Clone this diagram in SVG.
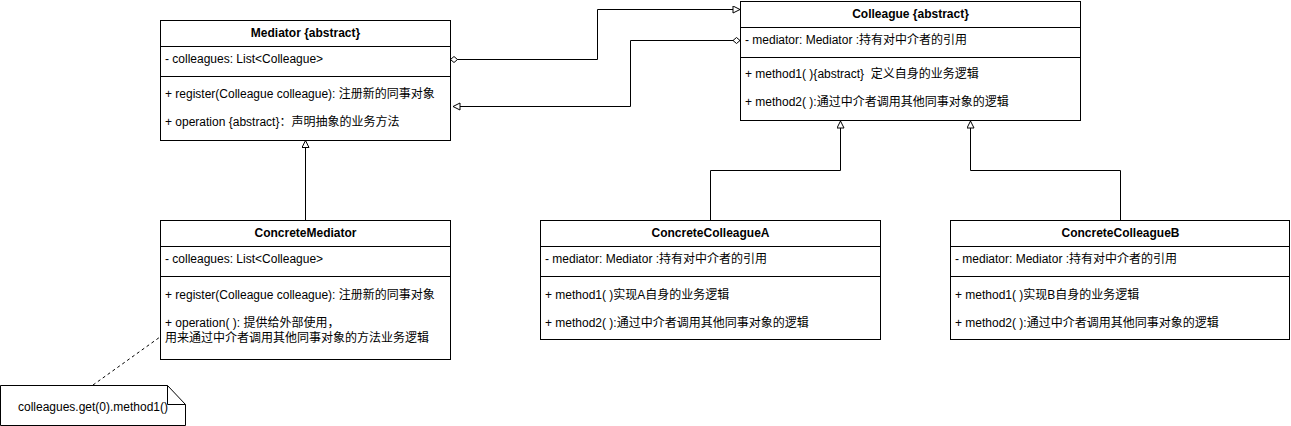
<svg xmlns="http://www.w3.org/2000/svg" width="1291" height="426" viewBox="0 0 1291 426">
<style>
.box{fill:#fff;stroke:#000;stroke-width:1}
.ln{stroke:#000;stroke-width:1;fill:none}
text{font-family:"Liberation Sans",Arial,"Noto Sans CJK SC",sans-serif;font-size:12px;fill:#000}
.t{font-weight:bold;text-anchor:middle}
.c{text-anchor:middle}
</style>
<defs>
<marker id="tri" markerUnits="userSpaceOnUse" markerWidth="10" markerHeight="10" viewBox="0 0 10 10" refX="8" refY="4" orient="auto">
<path d="M1,0.5 L8,4 L1,7.5 Z" fill="#fff" stroke="#000" stroke-width="1"/>
</marker>
<marker id="dia" markerUnits="userSpaceOnUse" markerWidth="12" markerHeight="10" viewBox="0 0 12 10" refX="1" refY="4" orient="auto">
<path d="M1,4 L4.5,1 L8,4 L4.5,7 Z" fill="#fff" stroke="#000" stroke-width="1"/>
</marker>
</defs>
<g id="connectors">
<path class="ln" d="M305.5,220 V140.5" marker-end="url(#tri)"/>
<path class="ln" d="M450.5,59.5 H597.5 V9.5 H740" marker-start="url(#dia)" marker-end="url(#tri)"/>
<path class="ln" d="M740,40.5 H630.5 V106.5 H453" marker-start="url(#dia)" marker-end="url(#tri)"/>
<path class="ln" d="M710.5,220 V170.5 H840.5 V121" marker-end="url(#tri)"/>
<path class="ln" d="M1120.5,220 V170.5 H970.5 V121" marker-end="url(#tri)"/>
<path class="ln" d="M93,385 L160,337" stroke-dasharray="3 3"/>
</g>
<g id="Mediator">
<rect class="box" x="160.5" y="20.5" width="290" height="120"/>
<path class="ln" d="M160.5,46.5 H450.5 M160.5,76.5 H450.5"/>
<text class="t" x="305.5" y="37">Mediator {abstract}</text>
<text x="165" y="63">- colleagues: List&lt;Colleague&gt;</text>
<text x="165" y="98">+ register(Colleague colleague): 注册新的同事对象</text>
<text x="165" y="126">+ operation {abstract}：声明抽象的业务方法</text>
</g>
<g id="Colleague">
<rect class="box" x="740.5" y="1.5" width="340" height="119"/>
<path class="ln" d="M740.5,27.5 H1080.5 M740.5,57.5 H1080.5"/>
<text class="t" x="910.5" y="18">Colleague {abstract}</text>
<text x="745" y="44">- mediator: Mediator :持有对中介者的引用</text>
<text x="745" y="78">+ method1( ){abstract}&#160; 定义自身的业务逻辑</text>
<text x="745" y="106">+ method2( ):通过中介者调用其他同事对象的逻辑</text>
</g>
<g id="ConcreteMediator">
<rect class="box" x="160.5" y="220.5" width="290" height="139"/>
<path class="ln" d="M160.5,246.5 H450.5 M160.5,276.5 H450.5"/>
<text class="t" x="305.5" y="237">ConcreteMediator</text>
<text x="165" y="263">- colleagues: List&lt;Colleague&gt;</text>
<text x="165" y="299">+ register(Colleague colleague): 注册新的同事对象</text>
<text x="165" y="327">+ operation( ): 提供给外部使用，</text>
<text x="165" y="342">用来通过中介者调用其他同事对象的方法业务逻辑</text>
</g>
<g id="ConcreteColleagueA">
<rect class="box" x="540.5" y="220.5" width="340" height="119"/>
<path class="ln" d="M540.5,246.5 H880.5 M540.5,276.5 H880.5"/>
<text class="t" x="710.5" y="237">ConcreteColleagueA</text>
<text x="545" y="263">- mediator: Mediator :持有对中介者的引用</text>
<text x="545" y="299">+ method1( )实现A自身的业务逻辑</text>
<text x="545" y="327">+ method2( ):通过中介者调用其他同事对象的逻辑</text>
</g>
<g id="ConcreteColleagueB">
<rect class="box" x="950.5" y="220.5" width="339" height="119"/>
<path class="ln" d="M950.5,246.5 H1289.5 M950.5,276.5 H1289.5"/>
<text class="t" x="1120.5" y="237">ConcreteColleagueB</text>
<text x="955" y="263">- mediator: Mediator :持有对中介者的引用</text>
<text x="955" y="299">+ method1( )实现B自身的业务逻辑</text>
<text x="955" y="327">+ method2( ):通过中介者调用其他同事对象的逻辑</text>
</g>
<g id="Note">
<path class="box" d="M0.5,385.5 H167.5 L185.5,404.5 V425.5 H0.5 Z"/>
<path class="ln" d="M167.5,385.5 V404.5 H185.5"/>
<text class="c" x="93" y="411">colleagues.get(0).method1()</text>
</g>
</svg>
